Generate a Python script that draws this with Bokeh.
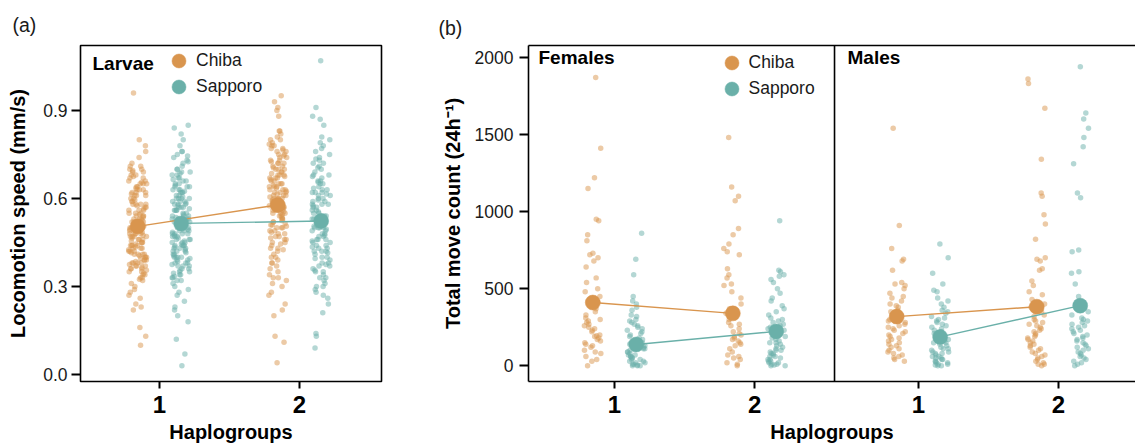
from bokeh.plotting import figure
from bokeh.layouts import row
from bokeh.models import (ColumnDataSource, FixedTicker, NumeralTickFormatter, Label,
                          Legend, LegendItem, LinearAxis, Span, Range1d)
from bokeh.transform import jitter
from bokeh.embed import file_html
from bokeh.resources import INLINE

# ---------------- data ----------------
haplogroups = [1, 2]
tick_labels = ["1", "2"]
origins = ["Chiba", "Sapporo"]

# (a) Larvae locomotion speed (mm/s)
larvae_chiba_h1 = [0.96, 0.80, 0.78, 0.76, 0.74, 0.72, 0.71, 0.71, 0.70, 0.70,
    0.69, 0.69, 0.68, 0.68, 0.67, 0.67, 0.66, 0.66, 0.65, 0.65, 0.65,
    0.64, 0.64, 0.63, 0.63, 0.63, 0.62, 0.62, 0.61, 0.61, 0.61, 0.60, 0.60,
    0.59, 0.59, 0.58, 0.58, 0.58, 0.57, 0.57, 0.56, 0.56, 0.56, 0.55, 0.55,
    0.54, 0.54, 0.54, 0.53, 0.53, 0.53, 0.52, 0.52, 0.52, 0.52, 0.51, 0.51, 0.51, 0.50, 0.50, 0.50,
    0.49, 0.49, 0.49, 0.48, 0.48, 0.48, 0.48, 0.47, 0.47, 0.47, 0.46, 0.46, 0.46, 0.45, 0.45, 0.45,
    0.44, 0.44, 0.44, 0.43, 0.43, 0.43, 0.42, 0.42, 0.42, 0.41, 0.41, 0.41, 0.40, 0.40, 0.40,
    0.39, 0.39, 0.39, 0.38, 0.38, 0.38, 0.37, 0.37, 0.37, 0.36, 0.36, 0.35, 0.35,
    0.34, 0.34, 0.33, 0.33, 0.32, 0.31, 0.30,
    0.29, 0.28, 0.27, 0.26, 0.24, 0.23, 0.22, 0.16, 0.13, 0.10,
    0.695, 0.675, 0.655, 0.635, 0.615, 0.595, 0.575, 0.565, 0.545, 0.535, 0.525, 0.515,
    0.505, 0.495, 0.485, 0.475, 0.465, 0.455, 0.445, 0.435, 0.425, 0.415, 0.405, 0.395,
    0.385, 0.375, 0.365, 0.355, 0.345, 0.325, 0.62, 0.58, 0.50, 0.47, 0.44, 0.41, 0.38,
    0.36, 0.52, 0.55]
larvae_sapporo_h1 = [0.85, 0.84, 0.82, 0.80, 0.78, 0.76, 0.76, 0.75,
    0.74, 0.73, 0.72, 0.71, 0.70, 0.70,
    0.69, 0.69, 0.68, 0.68, 0.67, 0.67, 0.66, 0.66, 0.65, 0.65,
    0.64, 0.64, 0.63, 0.63, 0.63, 0.62, 0.62, 0.62, 0.61, 0.61, 0.60, 0.60, 0.60,
    0.59, 0.59, 0.59, 0.58, 0.58, 0.58, 0.57, 0.57, 0.57, 0.56, 0.56, 0.56, 0.55, 0.55,
    0.54, 0.54, 0.54, 0.53, 0.53, 0.53, 0.52, 0.52, 0.52, 0.51, 0.51, 0.51, 0.50, 0.50, 0.50, 0.50,
    0.49, 0.49, 0.49, 0.48, 0.48, 0.48, 0.47, 0.47, 0.47, 0.46, 0.46, 0.46, 0.45, 0.45, 0.45,
    0.44, 0.44, 0.44, 0.43, 0.43, 0.43, 0.42, 0.42, 0.42, 0.41, 0.41, 0.40, 0.40, 0.40,
    0.39, 0.39, 0.38, 0.38, 0.38, 0.37, 0.37, 0.36, 0.36, 0.35, 0.35,
    0.34, 0.34, 0.33, 0.33, 0.32, 0.32, 0.31, 0.30,
    0.29, 0.28, 0.27, 0.25, 0.23, 0.22, 0.20, 0.18, 0.12, 0.07, 0.03,
    0.745, 0.725, 0.685, 0.665, 0.645, 0.625, 0.605, 0.585, 0.575, 0.565, 0.545, 0.535,
    0.525, 0.515, 0.505, 0.495, 0.485, 0.475, 0.465, 0.455, 0.445, 0.435, 0.425, 0.415,
    0.405, 0.395, 0.385, 0.375, 0.355, 0.345, 0.335, 0.64, 0.60, 0.56, 0.52, 0.48, 0.44,
    0.40, 0.37, 0.53]
larvae_chiba_h2 = [0.95, 0.93, 0.91, 0.90, 0.88,
    0.83, 0.83, 0.82, 0.81, 0.80, 0.80,
    0.79, 0.78, 0.78, 0.77, 0.77, 0.76, 0.76, 0.75, 0.75,
    0.74, 0.74, 0.73, 0.73, 0.72, 0.72, 0.71, 0.71, 0.70, 0.70, 0.70,
    0.69, 0.69, 0.68, 0.68, 0.67, 0.67, 0.67, 0.66, 0.66, 0.65, 0.65, 0.65,
    0.64, 0.64, 0.63, 0.63, 0.63, 0.62, 0.62, 0.62, 0.61, 0.61, 0.61, 0.60, 0.60, 0.60,
    0.59, 0.59, 0.59, 0.58, 0.58, 0.58, 0.57, 0.57, 0.57, 0.56, 0.56, 0.56, 0.55, 0.55, 0.55,
    0.54, 0.54, 0.53, 0.53, 0.52, 0.52, 0.51, 0.51, 0.50, 0.50,
    0.49, 0.49, 0.48, 0.48, 0.47, 0.46, 0.46, 0.45, 0.45,
    0.44, 0.43, 0.43, 0.42, 0.41, 0.40, 0.40,
    0.39, 0.38, 0.37, 0.36, 0.35, 0.34, 0.33, 0.32, 0.31, 0.30,
    0.28, 0.27, 0.24, 0.22, 0.20, 0.13, 0.11, 0.04,
    0.785, 0.765, 0.745, 0.725, 0.705, 0.685, 0.675, 0.665, 0.645, 0.635, 0.625, 0.615,
    0.605, 0.595, 0.585, 0.575, 0.565, 0.555, 0.545, 0.535, 0.525, 0.515, 0.505, 0.485,
    0.465, 0.445, 0.425, 0.72, 0.68, 0.64, 0.60, 0.58, 0.56, 0.50, 0.47, 0.38, 0.33]
larvae_sapporo_h2 = [1.07, 0.91, 0.88, 0.87, 0.85, 0.81, 0.80,
    0.79, 0.78, 0.77, 0.76, 0.75,
    0.74, 0.73, 0.72, 0.72, 0.71, 0.70,
    0.69, 0.68, 0.68, 0.67, 0.66, 0.66, 0.65, 0.65,
    0.64, 0.63, 0.63, 0.62, 0.62, 0.61, 0.61, 0.60, 0.60,
    0.59, 0.59, 0.58, 0.58, 0.57, 0.57, 0.56, 0.56, 0.55, 0.55,
    0.54, 0.54, 0.53, 0.53, 0.52, 0.52, 0.51, 0.51, 0.50, 0.50, 0.50,
    0.49, 0.49, 0.48, 0.48, 0.47, 0.47, 0.46, 0.46, 0.45, 0.45,
    0.44, 0.44, 0.43, 0.43, 0.42, 0.42, 0.41, 0.40, 0.40,
    0.39, 0.38, 0.38, 0.37, 0.36, 0.35, 0.35,
    0.34, 0.33, 0.32, 0.31, 0.30, 0.30,
    0.29, 0.28, 0.27, 0.26, 0.24, 0.21, 0.14, 0.13, 0.09,
    0.735, 0.705, 0.675, 0.655, 0.635, 0.615, 0.595, 0.575, 0.555, 0.535, 0.515, 0.505,
    0.495, 0.475, 0.455, 0.435, 0.415, 0.395, 0.375, 0.355, 0.62, 0.58, 0.54, 0.50, 0.46,
    0.42, 0.37, 0.33]
larvae_mean_chiba = [0.505, 0.578]
larvae_mean_sapporo = [0.515, 0.523]

# (b) Total move count (24h^-1)
female_chiba_h1 = [1870, 1410, 1220, 1150, 950, 940, 850, 810, 730, 720, 700, 680, 640, 570,
    540, 500, 480, 450, 430, 410, 390, 370, 350, 330, 310, 300, 290, 280, 270, 260, 250,
    240, 230, 220, 200, 195, 190, 180, 170, 160, 150, 140, 130, 120, 100, 90, 80, 60, 40, 30, 0]
female_sapporo_h1 = [860, 690, 590, 450, 420, 400, 380, 360, 330, 320, 300, 290, 280, 270,
    260, 250, 240, 230, 220, 210, 200, 190, 180, 170, 160, 150, 150, 140, 130, 120, 110, 110,
    100, 90, 90, 80, 70, 70, 60, 60, 50, 50, 40, 40, 30, 30, 20, 20, 10, 10, 5, 0, 0, 0]
female_chiba_h2 = [1480, 1160, 1100, 1070, 890, 850, 790, 760, 740, 720, 630, 590, 570, 530,
    520, 480, 440, 400, 370, 340, 320, 300, 280, 270, 260, 240, 220, 210, 200, 190, 180,
    170, 160, 150, 140, 130, 110, 90, 70, 60, 50, 40, 20, 10, 0]
female_sapporo_h2 = [940, 620, 610, 590, 580, 560, 540, 500, 470, 440, 420, 390, 370, 350,
    330, 310, 300, 290, 280, 270, 260, 250, 240, 230, 220, 210, 200, 190, 180, 170, 160,
    150, 150, 140, 130, 120, 110, 100, 100, 90, 80, 80, 70, 60, 60, 50, 40, 40, 30, 30,
    20, 20, 10, 10, 5, 0, 0]
male_chiba_h1 = [1540, 910, 760, 690, 680, 620, 540, 530, 520, 500, 470, 450, 440, 420, 400,
    390, 380, 360, 350, 330, 320, 300, 290, 280, 270, 260, 250, 240, 230, 220, 210, 200,
    190, 180, 170, 160, 150, 140, 130, 120, 110, 100, 90, 80, 70, 60, 50, 40, 30]
male_sapporo_h1 = [790, 700, 600, 530, 490, 480, 440, 420, 400, 380, 360, 350, 340, 320, 310,
    300, 290, 280, 270, 260, 250, 240, 230, 220, 210, 200, 190, 180, 170, 160, 150, 150,
    140, 130, 120, 110, 110, 100, 90, 90, 80, 80, 70, 60, 60, 50, 50, 40, 40, 30, 30, 20,
    20, 10, 10, 5, 0, 0]
male_chiba_h2 = [1860, 1830, 1670, 1340, 1120, 1100, 980, 920, 820, 700, 690, 680, 630, 620,
    550, 520, 480, 460, 430, 400, 380, 350, 330, 320, 300, 290, 280, 270, 260, 250, 240,
    230, 220, 210, 200, 190, 180, 170, 160, 150, 140, 130, 120, 110, 100, 90, 80, 70, 60,
    50, 40, 30, 20, 10, 10, 0]
male_sapporo_h2 = [1940, 1640, 1600, 1540, 1480, 1420, 1310, 1120, 1090, 750, 740, 610, 600,
    530, 450, 420, 400, 380, 350, 330, 310, 300, 290, 280, 270, 260, 250, 240, 230, 220,
    210, 200, 190, 180, 170, 160, 150, 140, 130, 120, 110, 100, 90, 80, 70, 60, 50, 40,
    30, 20, 10, 0]
female_mean_chiba = [410, 340]
female_mean_sapporo = [138, 223]
male_mean_chiba = [319, 383]
male_mean_sapporo = [187, 390]

# ---------------- style ----------------
ORANGE = "#D9954E"
TEAL = "#6AB0A9"
FONT = "Liberation Sans"
TXT = "#1a1a1a"
DODGE = 0.155
MALE_SHIFT = 2.17
JW = 0.13


def style_axes(p, ytick_standoff, ylab_standoff):
    for ax in p.xaxis:
        ax.axis_line_color = None
        ax.major_tick_line_color = "black"
        ax.major_tick_line_width = 2
        ax.major_tick_out = 7
        ax.major_tick_in = 0
        ax.minor_tick_line_color = None
        ax.major_label_text_font = FONT
        ax.major_label_text_font_style = "bold"
        ax.major_label_text_font_size = "24px"
        ax.major_label_text_color = "black"
        ax.major_label_standoff = 7
        ax.axis_label_text_font = FONT
        ax.axis_label_text_font_style = "bold"
        ax.axis_label_text_font_size = "20px"
        ax.axis_label_text_color = "black"
        ax.axis_label_standoff = 5
    for ax in p.yaxis:
        ax.axis_line_color = None
        ax.major_tick_line_color = "black"
        ax.major_tick_line_width = 2
        ax.major_tick_out = 9
        ax.major_tick_in = 0
        ax.minor_tick_line_color = None
        ax.major_label_text_font = FONT
        ax.major_label_text_font_size = "17.5px"
        ax.major_label_text_color = TXT
        ax.major_label_standoff = ytick_standoff
        ax.axis_label_text_font = FONT
        ax.axis_label_text_font_style = "bold"
        ax.axis_label_text_font_size = "20px"
        ax.axis_label_text_color = "black"
        ax.axis_label_standoff = ylab_standoff
    p.xgrid.visible = False
    p.ygrid.visible = False


def add_group(p, vals, xc, color):
    src = ColumnDataSource(dict(x=[xc] * len(vals), y=vals))
    p.scatter(x=jitter("x", width=JW, distribution="uniform"), y="y", source=src,
              size=5.5, fill_color=color, fill_alpha=0.5, line_color=None)


def add_means(p, xs, ys, color):
    p.line(x=xs, y=ys, line_color=color, line_width=1.4)
    return p.scatter(x=xs, y=ys, size=15, fill_color=color, line_color=color, line_width=0.5)


def make_legend(p, r1, r2, x, y1, y2):
    for lab, r, y in ((origins[0], r1, y1), (origins[1], r2, y2)):
        lg = Legend(items=[LegendItem(label=lab, renderers=[r])],
                    location=(x, y), glyph_width=35, glyph_height=35, padding=0,
                    margin=0, border_line_color=None, background_fill_alpha=0,
                    label_text_font=FONT, label_text_font_size="17.5px",
                    label_text_color=TXT, label_standoff=-3)
        p.add_layout(lg)


def add_text(p, txt, x, y, size, bold=False):
    p.add_layout(Label(x=x, y=y, x_units="screen", y_units="screen", text=txt,
                       text_font=FONT, text_font_size=size, text_baseline="middle",
                       text_font_style="bold" if bold else "normal",
                       text_color="black" if bold else TXT))


def panel_title(p, txt, offset, standoff):
    p.title.text = txt
    p.title.align = "left"
    p.title.offset = offset
    p.title.standoff = standoff
    p.title.text_font = FONT
    p.title.text_font_size = "19.5px"
    p.title.text_font_style = "normal"
    p.title.text_color = TXT


# ---------------- panel (a) ----------------
pa = figure(width=420, height=446, x_range=Range1d(0.436, 2.586), y_range=Range1d(-0.024, 1.1216),
            output_backend="svg", toolbar_location=None,
            min_border_left=80, min_border_right=39, min_border_top=45, min_border_bottom=65,
            x_axis_label="Haplogroups", y_axis_label="Locomotion speed (mm/s)")
pa.outline_line_color = "black"
pa.outline_line_width = 1.6
pa.outline_line_alpha = 1
style_axes(pa, 4, 11)
panel_title(pa, "(a)", -68, 19)
pa.xaxis.ticker = FixedTicker(ticks=haplogroups)
pa.xaxis.major_label_overrides = {h: t for h, t in zip(haplogroups, tick_labels)}
pa.yaxis.ticker = FixedTicker(ticks=[0.0, 0.3, 0.6, 0.9])
pa.yaxis.formatter = NumeralTickFormatter(format="0.0")

add_group(pa, larvae_chiba_h1, haplogroups[0] - DODGE, ORANGE)
add_group(pa, larvae_chiba_h2, haplogroups[1] - DODGE, ORANGE)
add_group(pa, larvae_sapporo_h1, haplogroups[0] + DODGE, TEAL)
add_group(pa, larvae_sapporo_h2, haplogroups[1] + DODGE, TEAL)
ra1 = add_means(pa, [h - DODGE for h in haplogroups], larvae_mean_chiba, ORANGE)
ra2 = add_means(pa, [h + DODGE for h in haplogroups], larvae_mean_sapporo, TEAL)
make_legend(pa, ra1, ra2, 81, 303.5, 277.5)
add_text(pa, "Larvae", 12, 318, "19px", bold=True)

# ---------------- panel (b) ----------------
pb = figure(width=715, height=446, x_range=Range1d(0.386, 4.72), y_range=Range1d(-102, 2077),
            output_backend="svg", toolbar_location=None,
            min_border_left=108, min_border_right=0, min_border_top=40, min_border_bottom=65,
            x_axis_label="Haplogroups", y_axis_label="Total move count (24h\u207b\u00b9)")
pb.outline_line_color = None
style_axes(pb, 6, 8)
panel_title(pb, "(b)", -90, 13)
pb.yaxis.axis_line_color = "black"
pb.yaxis.axis_line_width = 1.6
pb.xaxis.axis_line_color = "black"
pb.xaxis.axis_line_width = 1.6
x_ticks_b = haplogroups + [h + MALE_SHIFT for h in haplogroups]
pb.xaxis.ticker = FixedTicker(ticks=x_ticks_b)
pb.xaxis.major_label_overrides = {x: t for x, t in zip(x_ticks_b, tick_labels * 2)}
pb.yaxis.ticker = FixedTicker(ticks=[0, 500, 1000, 1500, 2000])
pb.yaxis.formatter = NumeralTickFormatter(format="0")
top_axis = LinearAxis(ticker=FixedTicker(ticks=[]), axis_line_color="black", axis_line_width=1.6,
                      major_tick_out=0, major_label_text_font_size="0px", minor_tick_line_color=None)
pb.add_layout(top_axis, "above")
pb.add_layout(Span(location=2.571, dimension="height", line_color="black", line_width=1.6))

add_group(pb, female_chiba_h1, haplogroups[0] - DODGE, ORANGE)
add_group(pb, female_chiba_h2, haplogroups[1] - DODGE, ORANGE)
add_group(pb, female_sapporo_h1, haplogroups[0] + DODGE, TEAL)
add_group(pb, female_sapporo_h2, haplogroups[1] + DODGE, TEAL)
add_group(pb, male_chiba_h1, haplogroups[0] + MALE_SHIFT - DODGE, ORANGE)
add_group(pb, male_chiba_h2, haplogroups[1] + MALE_SHIFT - DODGE, ORANGE)
add_group(pb, male_sapporo_h1, haplogroups[0] + MALE_SHIFT + DODGE, TEAL)
add_group(pb, male_sapporo_h2, haplogroups[1] + MALE_SHIFT + DODGE, TEAL)
rb1 = add_means(pb, [h - DODGE for h in haplogroups], female_mean_chiba, ORANGE)
rb2 = add_means(pb, [h + DODGE for h in haplogroups], female_mean_sapporo, TEAL)
add_means(pb, [h + MALE_SHIFT - DODGE for h in haplogroups], male_mean_chiba, ORANGE)
add_means(pb, [h + MALE_SHIFT + DODGE for h in haplogroups], male_mean_sapporo, TEAL)
make_legend(pb, rb1, rb2, 185.5, 301.5, 275.5)
add_text(pb, "Females", 10, 324, "19px", bold=True)
add_text(pb, "Males", 319, 324, "19px", bold=True)

layout = row(pa, pb, spacing=0)
open("out.html", "w").write(file_html(layout, INLINE))
